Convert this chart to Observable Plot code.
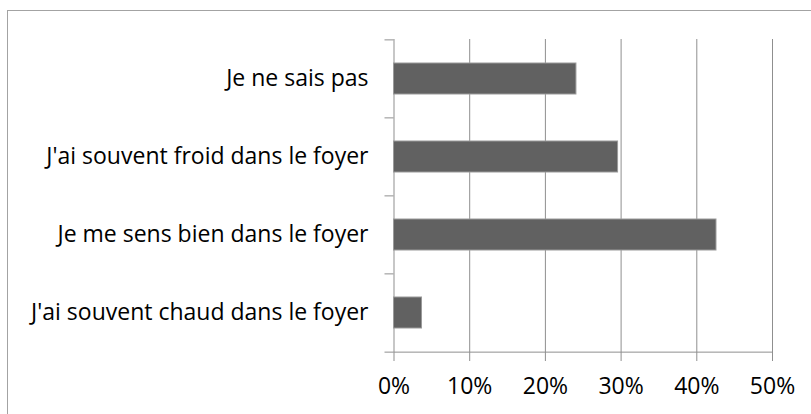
<!DOCTYPE html>
<html>
<head>
<meta charset="utf-8">
<script src="https://cdn.jsdelivr.net/npm/d3@7"></script>
<script src="https://cdn.jsdelivr.net/npm/@observablehq/plot@0.6"></script>
<style>
  html, body { margin: 0; padding: 0; background: #fff; overflow: hidden; }
  #wrap { position: relative; width: 811px; height: 414px; overflow: hidden; }
  #wrap svg { position: absolute; left: 0; top: 0; }
  #border { position: absolute; left: 7px; top: 10px; width: 1200px; height: 1200px;
            border: 1px solid #a3a3a3; pointer-events: none; z-index: 2; }
</style>
</head>
<body>
<div id="wrap"><div id="border"></div></div>
<script>
const categories = [
  "Je ne sais pas",
  "J'ai souvent froid dans le foyer",
  "Je me sens bien dans le foyer",
  "J'ai souvent chaud dans le foyer"
];
const values = [0.241, 0.296, 0.426, 0.037];
const xTicks = [0, 0.1, 0.2, 0.3, 0.4, 0.5];

const data = categories.map((c, i) => ({category: c, value: values[i]}));

const W = 811, H = 414;
const mTop = 39, mBottom = 62, mLeft = 393.5, mRight = 39;
const step = (H - mTop - mBottom) / categories.length;
const gridColor = "#8f8f8f";

const chart = Plot.plot({
  width: W,
  height: H,
  marginTop: mTop,
  marginBottom: mBottom,
  marginLeft: mLeft,
  marginRight: mRight,
  style: {fontFamily: "'Open Sans', sans-serif", fontSize: "23px", color: "#000", background: "transparent"},
  x: {domain: [0, 0.5], label: null},
  y: {domain: categories, paddingInner: 0.6, paddingOuter: 0.3, label: null},
  marks: [
    Plot.gridX(xTicks, {stroke: gridColor, strokeOpacity: 1}),
    Plot.ruleY([categories[categories.length - 1]], {dy: step / 2, stroke: gridColor}),
    Plot.axisX(xTicks, {tickSize: 9, tickPadding: 16, tickFormat: d3.format(".0%"), stroke: gridColor, fill: "#000", fontSize: 23, label: null}),
    Plot.axisY(categories, {tickSize: 9, dy: -step / 2, tickFormat: () => "", stroke: gridColor, label: null}),
    Plot.axisY([categories[categories.length - 1]], {tickSize: 9, dy: step / 2, tickFormat: () => "", stroke: gridColor, label: null}),
    Plot.axisY(categories, {tickSize: 0, tickPadding: 25.5, fill: "#000", fontSize: 23, label: null}),
    Plot.barX(data, {x: "value", y: "category", fill: "#616161", stroke: "#9a9a9a", strokeWidth: 1})
  ]
});
document.getElementById("wrap").prepend(chart);
</script>
</body>
</html>
